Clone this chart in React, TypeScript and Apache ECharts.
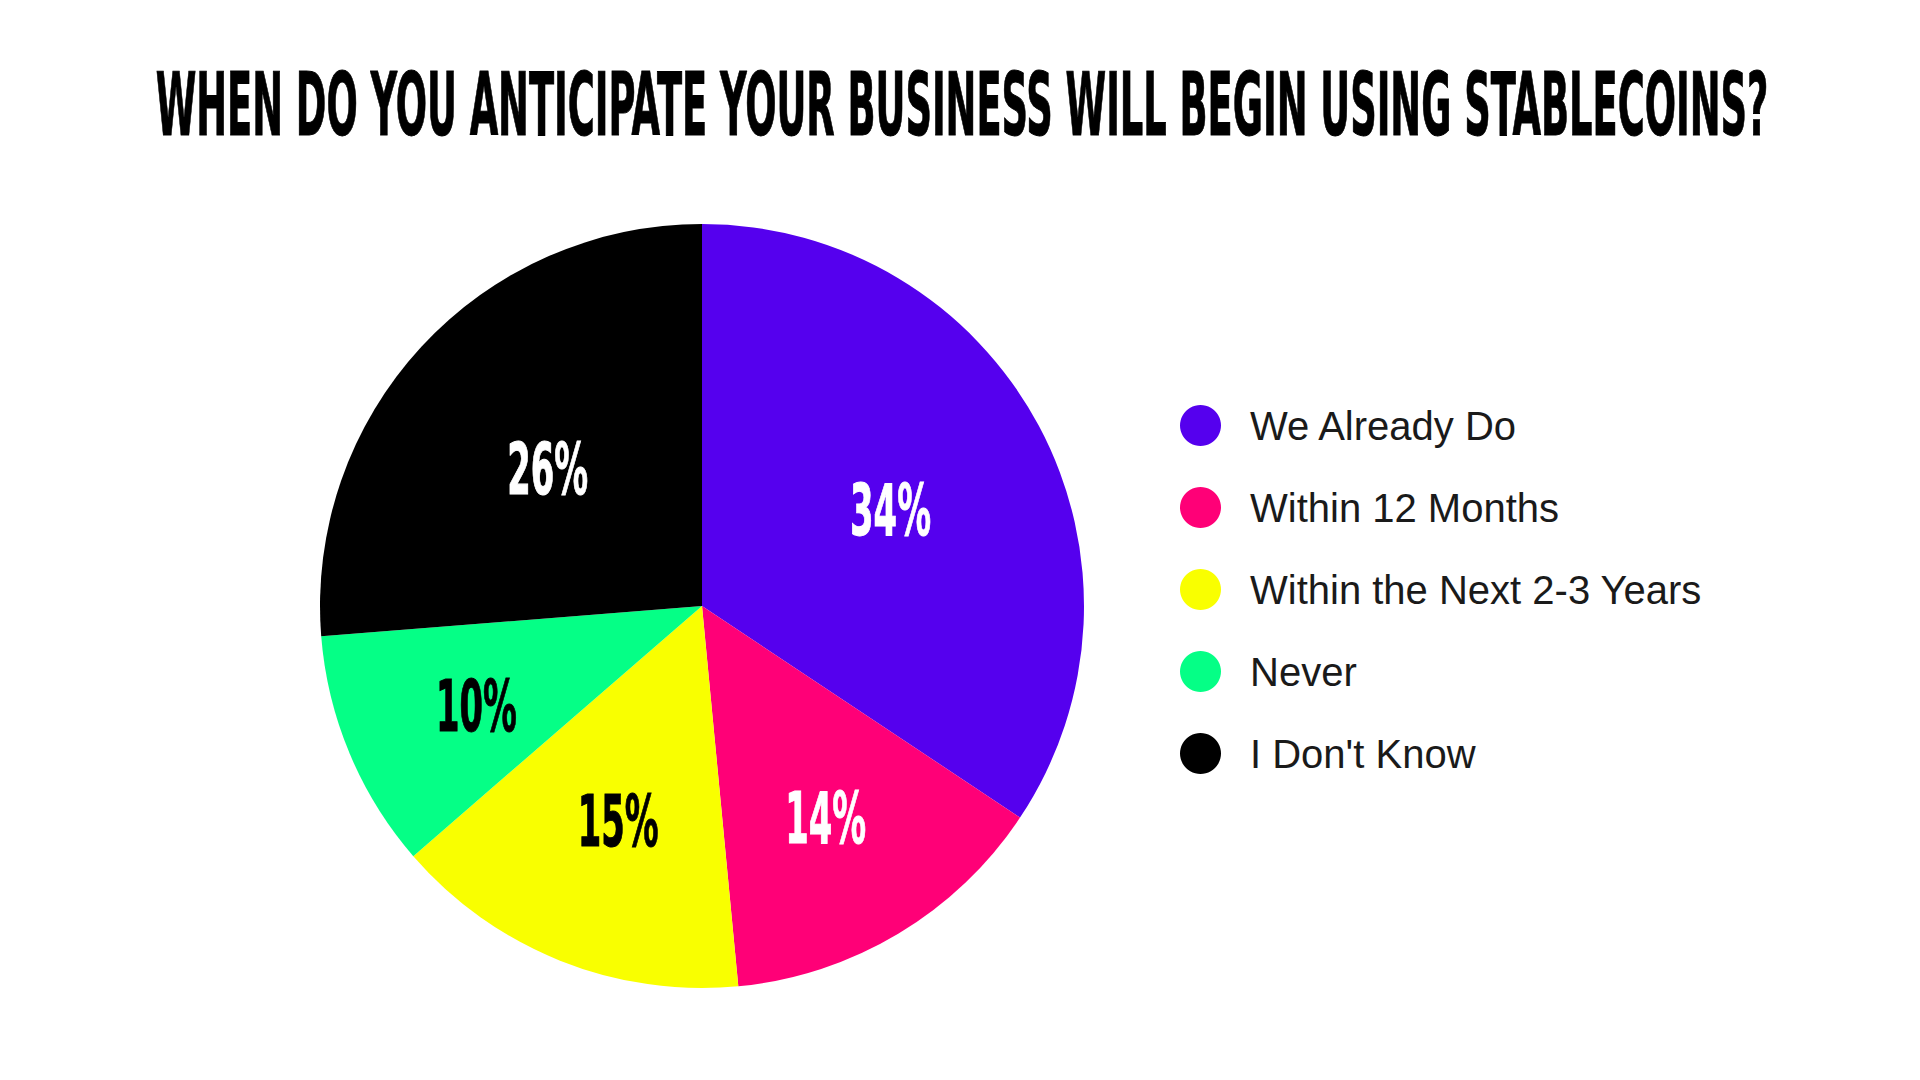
import { useEffect, useRef } from 'react';
import * as echarts from 'echarts';

const titleText = 'WHEN DO YOU ANTICIPATE YOUR BUSINESS WILL BEGIN USING STABLECOINS?';
const categories = ['We Already Do', 'Within 12 Months', 'Within the Next 2-3 Years', 'Never', "I Don't Know"];
const shares = [34, 14, 15, 10, 26];
const sliceColors = ['#5500ee', '#ff0077', '#f9ff00', '#05ff86', '#000000'];
const labelColors = ['#ffffff', '#ffffff', '#000000', '#000000', '#ffffff'];
// how far out (fraction of radius) each slice label sits
const labelRadius = [0.56, 0.63, 0.59, 0.64, 0.55];

const CONDENSED = '"Liberation Sans Narrow", "DejaVu Sans Condensed", sans-serif';

const textWidth = (text: string, font: string) => {
  const ctx = document.createElement('canvas').getContext('2d');
  if (!ctx) return text.length * 40;
  ctx.font = font;
  return ctx.measureText(text).width;
};

const App = () => {
  const chartDom = useRef<HTMLDivElement | null>(null);

  useEffect(() => {
    document.body.style.margin = '0';
    if (!chartDom.current) return;
    const myChart = echarts.init(chartDom.current, null, { renderer: 'svg' });

    const option = {
      animation: false,
      backgroundColor: '#ffffff',
      legend: {
        orient: 'vertical',
        left: 1175,
        top: 400,
        icon: 'circle',
        itemWidth: 41,
        itemHeight: 41,
        itemGap: 41,
        selectedMode: false,
        data: categories,
        textStyle: {
          fontFamily: '"Liberation Sans", Arial, sans-serif',
          fontSize: 40,
          lineHeight: 41,
          color: '#1a1a1a',
          padding: [0, 0, 0, 24],
        },
      },
      series: [
        {
          type: 'pie',
          center: [702, 606],
          radius: 382,
          startAngle: 90,
          clockwise: true,
          label: { show: false },
          labelLine: { show: false },
          emphasis: { disabled: true },
          data: categories.map((name, i) => ({
            name,
            value: shares[i],
            itemStyle: { color: sliceColors[i] },
          })),
        },
      ],
    };
    myChart.setOption(option);

    // title: condensed display look, squeezed to the reference width
    const titleFont = `bold 88px ${CONDENSED}`;
    const titleScale = 1612 / textWidth(titleText, titleFont);

    const labelFont = `bold 72px ${CONDENSED}`;
    const labelScale = 81 / textWidth('34%', labelFont);

    // slice labels placed from the pie's own layout
    const data = (myChart as any).getModel().getSeriesByIndex(0).getData();
    const labels = shares.map((v, i) => {
      const lay = data.getItemLayout(i);
      const mid = (lay.startAngle + lay.endAngle) / 2;
      const rr = lay.r * labelRadius[i];
      return {
        type: 'text',
        z: 100,
        x: lay.cx + Math.cos(mid) * rr,
        y: lay.cy + Math.sin(mid) * rr + 6,
        scaleX: labelScale,
        style: {
          text: `${v}%`,
          font: labelFont,
          fill: labelColors[i],
          stroke: labelColors[i],
          lineWidth: 1,
          textAlign: 'center',
          textVerticalAlign: 'middle',
          align: 'center',
          verticalAlign: 'middle',
        },
      };
    });

    myChart.setOption({
      graphic: [
        {
          type: 'text',
          z: 100,
          x: 962,
          y: 104,
          scaleX: titleScale,
          style: {
            text: titleText,
            font: titleFont,
            fill: '#000000',
            stroke: '#000000',
            lineWidth: 1,
            textAlign: 'center',
            textVerticalAlign: 'middle',
            align: 'center',
            verticalAlign: 'middle',
          },
        },
        ...labels,
      ],
    });

    return () => {
      myChart.dispose();
    };
  }, []);

  return <div ref={chartDom} style={{ width: 1920, height: 1080 }} />;
};

export default App;
